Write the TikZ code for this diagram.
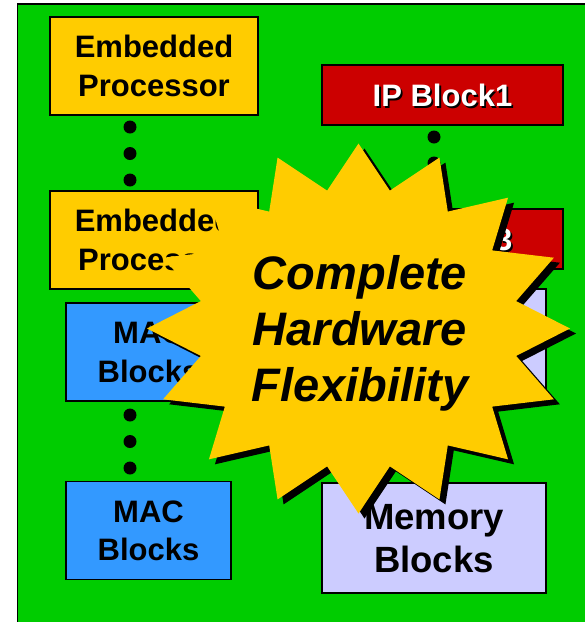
\documentclass[tikz,border=0pt]{standalone}
\usepackage{fontspec}
\setmainfont{Liberation Sans}
\definecolor{boardgreen}{HTML}{00CC00}
\definecolor{cpuyellow}{HTML}{FFCC00}
\definecolor{macblue}{HTML}{3399FF}
\definecolor{ipred}{HTML}{CC0000}
\definecolor{memlav}{HTML}{CCCCFF}
% white label with a small black drop shadow
\newcommand\shadowedlabel[1]{\leavevmode\rlap{\kern1.8pt\raisebox{-1.8pt}{\color{black}#1}}\textcolor{white}{#1}}
\begin{document}
\begin{tikzpicture}[x=1pt,y=-1pt,
  box/.style={draw=black, line width=1.3pt, inner sep=0pt, align=center,
    text depth=0pt, font=\fontsize{31}{38.5}\selectfont\bfseries},
  cpubox/.style={box, fill=cpuyellow, minimum width=208pt, minimum height=98pt},
  macbox/.style={box, fill=macblue, minimum width=165pt, minimum height=98pt},
  ipbox/.style={box, fill=ipred, minimum width=241pt, minimum height=60pt},
  membox/.style={box, fill=memlav, minimum width=224pt, minimum height=110pt,
    font=\fontsize{36.5}{43}\selectfont\bfseries},
  ellipsisdot/.style={circle, fill=black, inner sep=0pt, minimum size=13pt},
  flextext/.style={inner sep=0pt, align=center, text depth=0pt,
    font=\fontsize{47}{56}\selectfont\bfseries\itshape}
]
\useasboundingbox (0,0) rectangle (585,622);
\clip (0,0) rectangle (585,622);

% board
\draw[fill=boardgreen, line width=1.5pt] (17.5,4) rectangle (640,660);

% left column: processors and MAC blocks
\node[cpubox] (cpu1) at (154,66) {Embedded\\Processor};
\node[ellipsisdot] (cd1) at (130,127) {};
\node[ellipsisdot] (cd2) at (130,153.5) {};
\node[ellipsisdot] (cd3) at (130,180) {};
\node[cpubox] (cpu2) at (154,240) {Embedded\\Processor};

\node[macbox] (mac1) at (148.5,352) {MAC\\Blocks};
\node[ellipsisdot] (md1) at (130,415) {};
\node[ellipsisdot] (md2) at (130,441.5) {};
\node[ellipsisdot] (md3) at (130,468) {};
\node[macbox] (mac2) at (148.5,530.5) {MAC\\Blocks};

% right column: IP blocks and memories
\node[ipbox] (ip1) at (442.5,95) {\shadowedlabel{IP Block1}};
\node[ellipsisdot] (id1) at (434,137) {};
\node[ellipsisdot] (id2) at (434,163) {};
\node[ellipsisdot] (id3) at (434,189) {};
\node[ipbox] (ip3) at (442.5,239) {\shadowedlabel{IP Block3}};

\node[membox] (mem1) at (434,344) {};
\node[membox] (mem2) at (434,538) {Memory\\Blocks};

% sixteen-point burst with drop shadow
\fill[black] plot[samples at={0,1,...,31}, variable=\k]
  ({364.5+211.5*(1-0.24*mod(\k,2))*cos(90+11.25*\k)},
   {333.5-185*(1-0.24*mod(\k,2))*sin(90+11.25*\k)}) -- cycle;
\fill[cpuyellow] plot[samples at={0,1,...,31}, variable=\k]
  ({358.5+211.5*(1-0.24*mod(\k,2))*cos(90+11.25*\k)},
   {328.5-185*(1-0.24*mod(\k,2))*sin(90+11.25*\k)}) -- cycle;
\node[flextext] (flex) at (360,328) {Complete\\Hardware\\Flexibility};
\end{tikzpicture}
\end{document}
